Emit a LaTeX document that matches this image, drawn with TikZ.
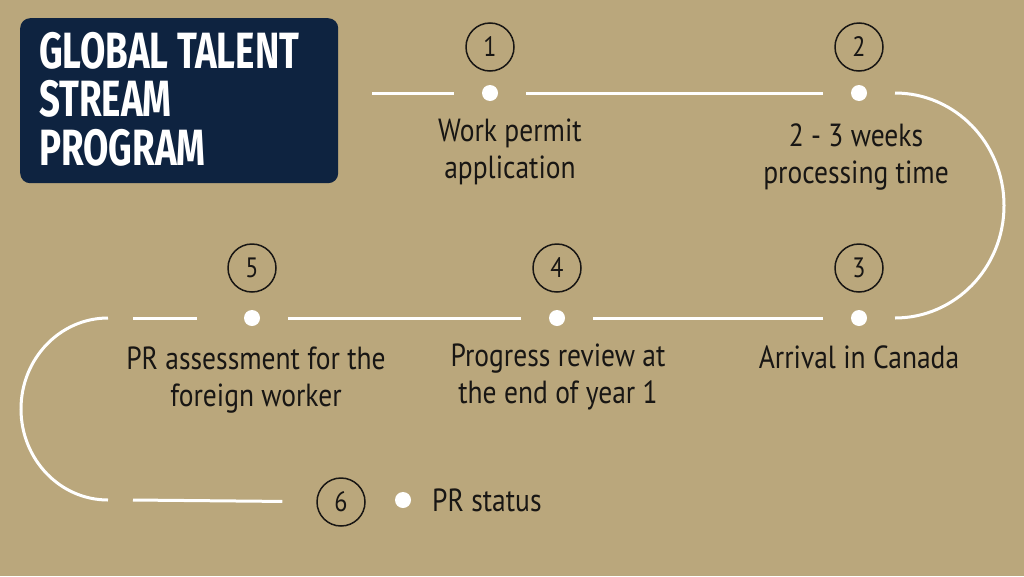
\documentclass[tikz,border=0pt]{standalone}
\usepackage{fontspec}
\setmainfont[FakeStretch=0.86]{PT Sans}
\newfontfamily\titlefont[FakeStretch=0.72]{Fira Sans}
\usetikzlibrary{positioning}
\definecolor{mytan}{RGB}{186,167,124}
\definecolor{mynavy}{RGB}{14,35,64}
\definecolor{myink}{RGB}{24,22,20}

\tikzset{
  stepdot/.style={circle, fill=white, minimum size=16pt, inner sep=0pt, outer sep=28pt},
  stepnum/.style={circle, draw=myink, line width=1.5pt, minimum size=48pt, inner sep=0pt, text=myink, font=\fontsize{28}{28}\selectfont},
  steptext/.style={align=center, text=myink, inner sep=0pt, font=\fontsize{32}{37}\selectfont},
  pathline/.style={draw=white, line width=3pt}
}

\begin{document}
\begin{tikzpicture}[x=1pt, y=-1pt]

% Background
\useasboundingbox (0,0) rectangle (1024,576);
\fill[mytan] (0,0) rectangle (1024,576);

% Title box
\node[rectangle, fill=mynavy, rounded corners=10pt, minimum width=318pt, minimum height=165pt, anchor=north west] (title) at (20,18) {};
\node[anchor=base west, align=left, text=white, inner sep=0pt, font=\titlefont\bfseries\fontsize{51}{48.5}\selectfont] (titletext) at (39,165) {GLOBAL TALENT\\STREAM\\PROGRAM};

% Dots on the path
\node[stepdot] (d1) at (490,93) {};
\node[stepdot] (d2) at (859,93) {};
\node[stepdot] (d3) at (859,318) {};
\node[stepdot] (d4) at (557,318) {};
\node[stepdot] (d5) at (252,318) {};
\node[stepdot, outer sep=0pt] (d6) at (403,500) {};

% Free ends of the path
\coordinate (topstart) at (372,93);
\coordinate (midend) at (133,318);
\coordinate (arctop) at (108,318);
\coordinate (botstart) at (133,500);

% Number circles
\node[stepnum] (n1) at (490,47) {1};
\node[stepnum] (n2) at (859,47) {2};
\node[stepnum] (n3) at (859,268) {3};
\node[stepnum] (n4) at (557,268) {4};
\node[stepnum] (n5) at (252,268) {5};
\node[stepnum] (n6) at (341,502) {6};

% Step texts (base = last line)
\node[steptext, anchor=base] (t1) at (510,178) {Work permit\\application};
\node[steptext, anchor=base] (t2) at (856,183) {2 - 3 weeks\\processing time};
\node[steptext, anchor=base] (t3) at (859,368) {Arrival in Canada};
\node[steptext, anchor=base] (t4) at (558,403) {Progress review at\\the end of year 1};
\node[steptext, anchor=base] (t5) at (256,406) {PR assessment for the\\foreign worker};
\node[steptext, anchor=base west] (t6) at (432,511) {PR status};

% Path
\draw[pathline] (topstart) -- (d1);
\draw[pathline] (d1) -- (d2);
\draw[pathline] (d2.east) arc[start angle=-90, end angle=90, x radius=109, y radius=112.5];
\draw[pathline] (d3) -- (d4);
\draw[pathline] (d4) -- (d5);
\draw[pathline, shorten <=19pt] (d5) -- (midend);
\draw[pathline] (arctop) arc[start angle=-90, end angle=-270, x radius=87, y radius=91];
\draw[pathline, shorten >=34pt] (botstart) -- (n6);

\end{tikzpicture}
\end{document}
